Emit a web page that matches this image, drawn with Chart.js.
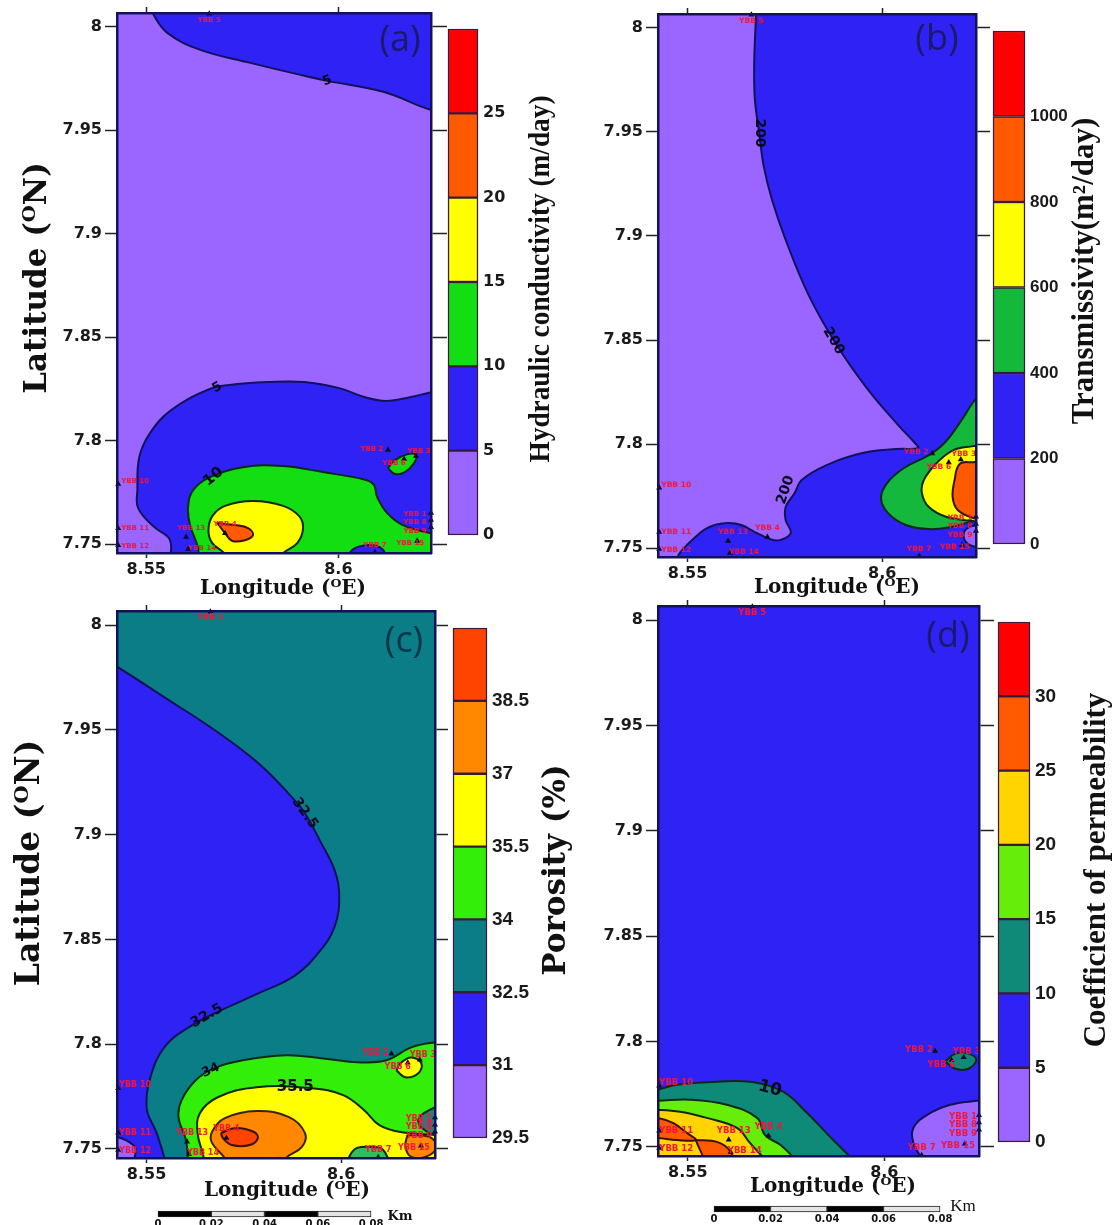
<!DOCTYPE html>
<html><head><meta charset="utf-8">
<script src="https://cdn.jsdelivr.net/npm/chart.js@4"></script>
<style>
html,body{margin:0;padding:0;background:#fff;width:1116px;height:1225px;overflow:hidden}
#wrap{position:relative;width:1116px;height:1225px;filter:blur(0.45px)}
canvas{position:absolute;left:0;top:0}
</style></head><body><div id="wrap"></div>
<script>
// ---------- axis values ----------
const lonTicks=[8.55,8.6];
const latTicks=[7.75,7.8,7.85,7.9,7.95,8];
const lonMin=8.5424, lonMax=8.6241, latMin=7.7457, latMax=8.0067;
const outside=[[8.53,7.73],[8.635,7.73],[8.635,8.02],[8.53,8.02],[8.53,7.73]];

// ---------- wells (lon, lat) ----------
const wellNames=['YBB 5','YBB 10','YBB 11','YBB 12','YBB 13','YBB 14','YBB 4','YBB 7','YBB 2','YBB 3','YBB 6','YBB 1','YBB 8','YBB 9','YBB 15'];
const wellLon=[8.5664,8.5427,8.5427,8.5427,8.5604,8.5609,8.5705,8.6095,8.6129,8.6202,8.6171,8.6241,8.6241,8.6241,8.6205];
const wellLat=[8.0063,7.7790,7.7577,7.7495,7.7534,7.7476,7.7553,7.7461,7.7955,7.7926,7.7911,7.7650,7.7616,7.7582,7.7515];
const wellDx=[0,17,17,17,5,14,0,0,-16,3,-10,-16,-16,-16,-7];
const wellDy=[6,-3,0,1,-9,-1,-9,-7,-1,-5,4,1,2,4,2];

// ---------- panel (a) hydraulic conductivity contours ----------
const a5Top=[[8.5505,8.012],[8.5516,8.0068],[8.5555,7.9971],[8.5641,7.9889],[8.5771,7.9826],[8.5901,7.9768],[8.5971,7.9739],[8.6117,7.9686],[8.624,7.9599],[8.632,7.957],[8.632,8.02],[8.5505,8.02]];
const a5Main=[[8.5557,7.7398],[8.5565,7.7485],[8.5557,7.7534],[8.5521,7.7582],[8.5479,7.7674],[8.5477,7.7761],[8.5482,7.7921],[8.551,7.8037],[8.5565,7.8148],[8.5659,7.8245],[8.5716,7.8269],[8.5817,7.8283],[8.5911,7.8283],[8.6002,7.8254],[8.6067,7.8211],[8.6124,7.8192],[8.6189,7.8211],[8.6244,7.8235],[8.6277,7.8245],[8.6277,7.7398],[8.5557,7.7398]];
const a10Main=[[8.5635,7.7398],[8.5635,7.7481],[8.5614,7.7592],[8.5609,7.7679],[8.5622,7.7761],[8.5666,7.7824],[8.5752,7.7872],[8.5856,7.7877],[8.596,7.7848],[8.6072,7.781],[8.6093,7.7785],[8.6101,7.7727],[8.6127,7.765],[8.6168,7.7592],[8.6238,7.7553],[8.6277,7.7539],[8.6277,7.7398],[8.5635,7.7398]];
const a5Blob=[[8.6017,7.7398],[8.6036,7.7471],[8.6075,7.7495],[8.6114,7.7476],[8.6134,7.7398]];
const a10Blob=[[8.6129,7.7868],[8.6147,7.7839],[8.6173,7.7848],[8.6197,7.7892],[8.6202,7.793],[8.6181,7.7935],[8.6147,7.7906],[8.6129,7.7868]];
const a15=[[8.5725,7.7398],[8.5703,7.7456],[8.5672,7.7505],[8.5662,7.7565],[8.5672,7.7635],[8.5705,7.7685],[8.5778,7.7708],[8.5856,7.7685],[8.5898,7.7635],[8.5908,7.7575],[8.5893,7.7505],[8.5856,7.7456],[8.5835,7.7398]];
const a20=[[8.5685,7.7602],[8.5731,7.7592],[8.5765,7.7577],[8.5778,7.7544],[8.5757,7.7519],[8.5724,7.7515],[8.5705,7.7553],[8.5685,7.7602]];

// ---------- panel (b) transmissivity contours ----------
const b200=[[8.5676,8.0135],[8.5676,8.0067],[8.5673,7.9942],[8.5671,7.9798],[8.5673,7.9654],[8.5684,7.9495],[8.5696,7.9332],[8.5717,7.9173],[8.5752,7.8981],[8.5811,7.8716],[8.5883,7.8476],[8.5964,7.826],[8.6041,7.8091],[8.6084,7.8005],[8.6092,7.7981],[8.6038,7.7976],[8.5949,7.7957],[8.5857,7.7899],[8.5793,7.7827],[8.5775,7.7764],[8.5752,7.7697],[8.5752,7.7635],[8.5765,7.7572],[8.5737,7.7538],[8.5712,7.7543],[8.5673,7.7577],[8.5638,7.7611],[8.5602,7.762],[8.5556,7.7601],[8.552,7.7553],[8.5482,7.7481],[8.5459,7.7418],[8.5378,7.7418],[8.5378,8.0135]];
const b400=[[8.627,7.8284],[8.6234,7.8202],[8.6204,7.8115],[8.616,7.8005],[8.612,7.7947],[8.6056,7.7885],[8.6013,7.7813],[8.5997,7.774],[8.6015,7.7668],[8.6061,7.7611],[8.612,7.7591],[8.6176,7.7601],[8.6234,7.763],[8.627,7.7644]];
const b600=[[8.627,7.8],[8.6234,7.799],[8.6183,7.7971],[8.614,7.7909],[8.6107,7.7827],[8.6102,7.7764],[8.612,7.7697],[8.6166,7.7649],[8.6234,7.763],[8.627,7.7625]];
const b800=[[8.627,7.7918],[8.6234,7.7913],[8.6199,7.7904],[8.6186,7.7827],[8.6181,7.7745],[8.6194,7.7683],[8.6234,7.7644],[8.627,7.7635]];
const b0Patch=[[8.627,7.7615],[8.6224,7.7601],[8.6209,7.7563],[8.6224,7.7515],[8.627,7.75]];

// ---------- panel (c) porosity contours ----------
const c325=[[8.5379,7.9848],[8.5425,7.98],[8.5552,7.9648],[8.568,7.9492],[8.5791,7.9335],[8.5876,7.9173],[8.5907,7.9102],[8.5946,7.8969],[8.5984,7.8826],[8.5995,7.8707],[8.5984,7.8565],[8.5946,7.8446],[8.5881,7.8327],[8.5791,7.8246],[8.5673,7.8146],[8.5608,7.808],[8.5554,7.8004],[8.5518,7.789],[8.55,7.77],[8.5526,7.7576],[8.5546,7.7457],[8.5554,7.74],[8.5379,7.74],[8.5379,7.9848]];
const c31=[[8.5379,7.7567],[8.5425,7.7557],[8.5466,7.7519],[8.5472,7.7486],[8.5456,7.7424],[8.5379,7.7424]];
const c34=[[8.5606,7.74],[8.5606,7.7457],[8.5601,7.7543],[8.5582,7.7652],[8.559,7.7733],[8.5626,7.7828],[8.5673,7.7885],[8.5747,7.7923],[8.5858,7.7947],[8.5948,7.7933],[8.6041,7.7914],[8.6116,7.7923],[8.618,7.7985],[8.6242,7.8009],[8.6281,7.8013],[8.6281,7.74],[8.5606,7.74]];
const c355=[[8.5647,7.74],[8.5647,7.7457],[8.5631,7.7576],[8.5637,7.7671],[8.5683,7.7747],[8.5783,7.7795],[8.5923,7.779],[8.6005,7.7757],[8.6059,7.7685],[8.6098,7.7614],[8.6152,7.7581],[8.6242,7.7567],[8.6281,7.7562],[8.6281,7.74],[8.5647,7.74]];
const cTealPatch=[[8.6281,7.7714],[8.6242,7.77],[8.6198,7.7638],[8.6227,7.7576],[8.6281,7.7567]];
const c34Blob=[[8.601,7.74],[8.6023,7.7471],[8.6041,7.7505],[8.6077,7.751],[8.6108,7.7495],[8.6131,7.74]];
const c355Blob=[[8.6142,7.7875],[8.6165,7.7842],[8.6198,7.7861],[8.6206,7.7909],[8.618,7.7937],[8.6152,7.7909],[8.6142,7.7875]];
const c37=[[8.5719,7.74],[8.5701,7.7457],[8.5668,7.7529],[8.5668,7.7581],[8.5701,7.7647],[8.5783,7.7681],[8.5866,7.7652],[8.5907,7.7576],[8.5899,7.751],[8.5858,7.7457],[8.5838,7.74]];
const c385=[[8.5691,7.7576],[8.5729,7.76],[8.5776,7.7581],[8.5786,7.7552],[8.5765,7.7519],[8.5719,7.7519],[8.5696,7.7552],[8.5691,7.7576]];
const c37Corner=[[8.617,7.7567],[8.6227,7.7557],[8.6245,7.751],[8.6216,7.7462],[8.618,7.7462],[8.6165,7.751],[8.617,7.7567]];

// ---------- panel (d) permeability contours ----------
const d10=[[8.5378,7.7757],[8.5421,7.7771],[8.5472,7.7795],[8.5574,7.7809],[8.5658,7.7809],[8.5742,7.7762],[8.5803,7.7662],[8.5862,7.7548],[8.5913,7.7452],[8.5939,7.739],[8.5378,7.739]];
const d15=[[8.5378,7.7719],[8.5421,7.7719],[8.5505,7.7724],[8.5599,7.77],[8.5676,7.7638],[8.5696,7.7557],[8.5735,7.751],[8.5768,7.7452],[8.5798,7.739],[8.5378,7.739]];
const d20=[[8.5378,7.7676],[8.5421,7.7676],[8.548,7.7667],[8.5548,7.7638],[8.5625,7.759],[8.5658,7.7519],[8.5691,7.7452],[8.5722,7.739],[8.5378,7.739]];
const d25West=[[8.5378,7.7643],[8.5421,7.7638],[8.5462,7.7614],[8.5497,7.7567],[8.552,7.7533],[8.5472,7.7533],[8.5421,7.7543],[8.5378,7.7543]];
const d25South=[[8.552,7.7533],[8.5574,7.7524],[8.5607,7.7481],[8.5622,7.739],[8.5561,7.739],[8.5531,7.7486],[8.552,7.7533]];
const d5=[[8.627,7.7724],[8.6234,7.7719],[8.6168,7.77],[8.6109,7.7652],[8.6074,7.759],[8.6074,7.7519],[8.6092,7.7452],[8.6104,7.739],[8.627,7.739]];
const d10Blob=[[8.6155,7.7905],[8.6181,7.7943],[8.6214,7.7943],[8.6234,7.7914],[8.6214,7.7871],[8.6181,7.7871],[8.6155,7.7905]];

// ---------- colour bar values ----------
const aEdges=[0,5,10,15,20,25,30];
const bEdges=[0,200,400,600,800,1000,1200];
const cEdges=[29.5,31,32.5,34,35.5,37,38.5,40];
const dEdges=[0,5,10,15,20,25,30,35];
const scaleStops=[0,0.02,0.04,0.06,0.08];

const PURPLE='#9a66ff',BLUE='#2f22f5',TEAL='#0a7d86',SEA='#0f8a78',GREEN='#12de12',LIME='#33ee08',LIME2='#66ee0a',
 YELLOW='#ffff00',GOLD='#ffd400',ORANGE='#ff8800',DEEP='#ff5a00',SCARLET='#ff4400',RED='#ff0000';
const NAVY='#12125c',DARK='#0d2a16';

const W=1116,H=1225,wrap=document.getElementById('wrap');
Chart.defaults.devicePixelRatio=1;
function cv(){const c=document.createElement('canvas');c.width=W;c.height=H;c.style.width=W+'px';c.style.height=H+'px';wrap.appendChild(c);return c;}
function toXY(p){return p.map(q=>({x:q[0],y:q[1]}));}
function texts(ctx,items){
  items.forEach(o=>{ctx.save();ctx.translate(o.x,o.y);ctx.rotate((o.rot||0)*Math.PI/180);ctx.font=o.font;ctx.fillStyle=o.color||'#111';
    ctx.textAlign='center';ctx.textBaseline='middle';o.w?ctx.fillText(o.t,0,0,o.w):ctx.fillText(o.t,0,0);ctx.restore();});
}
const SERIF='"DejaVu Serif"',NARROW='"Liberation Serif"',SANS='"DejaVu Sans"';
const LAT='Latitude (\u1D3CN)',LON='Longitude (\u1D3CE)';

const panels=[
 {rect:{l:117,t:13,r:431,b:553},base:PURPLE,rightTick:16,wellSize:7,
  zones:[[a5Top,BLUE,NAVY],[a5Main,BLUE,NAVY],[a10Main,GREEN,DARK],[a5Blob,BLUE,NAVY],[a10Blob,GREEN,DARK],[a15,YELLOW,DARK],[a20,DEEP,'#3a1008']],
  contour:[{t:'5',lon:8.5971,lat:7.9739,rot:-20,size:13},{t:'5',lon:8.5685,lat:7.8256,rot:-30,size:13},{t:'10',lon:8.5675,lat:7.7825,rot:-40,size:15}],
  page:[{t:LAT,x:38,y:278,font:'bold 31px '+SERIF,rot:-90,w:295},{t:LON,x:283,y:589,font:'bold 20px '+SERIF,w:210},
        {t:'Hydraulic conductivity (m/day)',x:541,y:279,font:'bold 30px '+NARROW,rot:-90,w:367},{t:'(a)',x:400,y:41,font:'36px "Open Sans"',color:'#1a1a6a'}]},
 {rect:{l:658,t:14,r:976,b:557},base:BLUE,rightTick:14,wellSize:7.5,
  zones:[[b200,PURPLE,NAVY],[b400,'#14b83c',DARK],[b600,YELLOW,DARK],[b800,DEEP,'#3a1008'],[b0Patch,PURPLE,NAVY]],
  contour:[{t:'200',lon:8.5684,lat:7.9495,rot:90,size:14},{t:'200',lon:8.5875,lat:7.8495,rot:60,size:14},{t:'200',lon:8.5752,lat:7.7779,rot:-72,size:14}],
  page:[{t:LON,x:837,y:588,font:'bold 20px '+SERIF,w:222},{t:'Transmissivity(m\u00B2/day)',x:1085,y:271,font:'bold 31px '+NARROW,rot:-90,w:332},
        {t:'(b)',x:937,y:40,font:'36px "Open Sans"',color:'#1a1a6a'}]},
 {rect:{l:117,t:611,r:435,b:1158},base:TEAL,rightTick:13,wellSize:8,
  zones:[[c325,BLUE,NAVY],[c31,PURPLE,NAVY],[c34,LIME,DARK],[c355,YELLOW,DARK],[cTealPatch,'#2f7a78',DARK],[c34Blob,'#2fc05a',DARK],[c355Blob,YELLOW,DARK],[c37,ORANGE,'#3a2008'],[c385,SCARLET,'#3a1008'],[c37Corner,ORANGE,'#3a2008']],
  contour:[{t:'32.5',lon:8.5907,lat:7.9102,rot:55,size:14},{t:'32.5',lon:8.5655,lat:7.8135,rot:-30,size:14},{t:'34',lon:8.5665,lat:7.7875,rot:-25,size:13},{t:'35.5',lon:8.5882,lat:7.7795,rot:0,size:15}],
  page:[{t:LAT,x:30,y:863,font:'bold 33px '+SERIF,rot:-90,w:315},{t:LON,x:287,y:1191,font:'bold 20px '+SERIF,w:222},
        {t:'Porosity (%)',x:557,y:870,font:'bold 31px '+SERIF,rot:-90,w:240},{t:'(c)',x:404,y:642,font:'36px "Open Sans"',color:'#08354a'},
        {t:'Km',x:400,y:1217,font:'bold 13px '+SERIF}]},
 {rect:{l:658,t:606,r:979,b:1156},base:BLUE,rightTick:15,wellSize:8.5,
  zones:[[d10,SEA,DARK],[d15,LIME2,DARK],[d20,GOLD,DARK],[d25West,DEEP,'#3a1008'],[d25South,DEEP,'#3a1008'],[d5,PURPLE,NAVY],[d10Blob,SEA,DARK]],
  contour:[{t:'10',lon:8.5709,lat:7.7776,rot:15,size:17}],
  page:[{t:LON,x:833,y:1187,font:'bold 20px '+SERIF,w:225},{t:'Coefficient of permeability',x:1097,y:870,font:'bold 31px '+NARROW,rot:-90,w:360},
        {t:'(d)',x:948,y:637,font:'36px "Open Sans"',color:'#1a1a6a'},{t:'Km',x:963,y:1207,font:'17px '+NARROW}]}
];

// Axis boxes get a fixed size so the plot rectangle comes out exactly where the layout says.
const LEFT_BOX=60,BOTTOM_BOX=28,BAR_BOX=70;
function pad(r,lb,bb,rb){return {left:r.l-(lb||0),top:r.t,right:W-r.r-(rb||0),bottom:H-r.b-(bb||0)};}
const sizeW=n=>s=>{s.width=n;}, sizeH=n=>s=>{s.height=n;};
const tickFont={family:'DejaVu Sans',size:16,weight:'bold'};

panels.forEach(p=>{
  const ds=[{data:toXY(outside),fill:'shape',backgroundColor:p.base,borderWidth:0,tension:0}];
  p.zones.forEach(z=>ds.push({data:toXY(z[0]),fill:'shape',backgroundColor:z[1],borderColor:z[2],borderWidth:2,tension:0.4,capBezierPoints:false}));
  ds.push({showLine:false,data:wellLon.map((x,i)=>({x,y:wellLat[i]})),pointStyle:'triangle',pointRadius:3.5,pointBackgroundColor:'#0a0a22',pointBorderWidth:0,clip:false});
  const n=ds.length;
  ds.forEach((d,i)=>{d.order=n-i;d.pointRadius=d.pointRadius||0;});
  const mapText={id:'mapText',afterDatasetsDraw(chart){
    const c=chart.ctx,sx=chart.scales.x,sy=chart.scales.y;
    texts(c,wellNames.map((t,i)=>({t,x:sx.getPixelForValue(wellLon[i])+wellDx[i],y:sy.getPixelForValue(wellLat[i])+wellDy[i],font:'bold '+p.wellSize+'px '+SANS,color:'#f2163c'})));
    texts(c,p.contour.map(o=>({t:o.t,x:sx.getPixelForValue(o.lon),y:sy.getPixelForValue(o.lat),rot:o.rot,font:'bold '+o.size+'px '+SANS,color:'#0a0a1e'})));
    texts(c,p.page);
  }};
  const lonAxis=(pos,show,len,box)=>({type:'linear',position:pos,min:lonMin,max:lonMax,afterFit:sizeH(box),
    afterBuildTicks:s=>{s.ticks=lonTicks.map(value=>({value}));},
    grid:{drawOnChartArea:false,tickLength:len,tickColor:'#222',tickWidth:1.5},border:{color:NAVY,width:2.5,z:2},
    ticks:{display:show,autoSkip:false,maxRotation:0,padding:2,font:tickFont,color:'#1a1a1a',callback:v=>String(v)}});
  const latAxis=(pos,show,len,box)=>({type:'linear',position:pos,min:latMin,max:latMax,afterFit:sizeW(box),
    afterBuildTicks:s=>{s.ticks=latTicks.map(value=>({value}));},
    grid:{drawOnChartArea:false,tickLength:len,tickColor:'#222',tickWidth:1.5},border:{color:NAVY,width:2.5,z:2},
    ticks:{display:show,autoSkip:false,padding:3,font:tickFont,color:'#1a1a1a',callback:v=>String(v)}});
  new Chart(cv(),{type:'line',data:{datasets:ds},plugins:[mapText],options:{responsive:false,animation:false,
    layout:{padding:pad(p.rect,LEFT_BOX,BOTTOM_BOX)},plugins:{legend:{display:false},tooltip:{enabled:false}},
    scales:{x:lonAxis('bottom',true,5,BOTTOM_BOX),x2:lonAxis('top',false,6,0),y:latAxis('left',true,12,LEFT_BOX),y2:latAxis('right',false,p.rightTick,0)}}});
});

const bars=[
 {rect:{l:448,t:29,r:478,b:535},edges:aEdges,colors:[PURPLE,BLUE,GREEN,YELLOW,DEEP,RED],font:{family:'DejaVu Sans',size:16,weight:'bold'}},
 {rect:{l:993,t:31,r:1025,b:544},edges:bEdges,colors:[PURPLE,BLUE,'#14b83c',YELLOW,DEEP,RED],font:{family:'Liberation Sans',size:17,weight:'bold'}},
 {rect:{l:453,t:628,r:487,b:1138},edges:cEdges,colors:[PURPLE,BLUE,TEAL,LIME,YELLOW,ORANGE,SCARLET],font:{family:'Liberation Sans',size:19,weight:'bold'}},
 {rect:{l:998,t:622,r:1030,b:1142},edges:dEdges,colors:[PURPLE,BLUE,SEA,LIME2,GOLD,DEEP,RED],font:{family:'Liberation Sans',size:19,weight:'bold'}}
];
bars.forEach(b=>{
  const e=b.edges;
  const ds=b.colors.map((c,i)=>({data:[[e[i],e[i+1]]],backgroundColor:c,borderColor:'#3a1a3a',borderWidth:1.5,borderSkipped:false,barPercentage:1,categoryPercentage:1,clip:false,grouped:false}));
  new Chart(cv(),{type:'bar',data:{labels:[''],datasets:ds},options:{responsive:false,animation:false,
    layout:{padding:pad(b.rect,0,0,BAR_BOX)},plugins:{legend:{display:false},tooltip:{enabled:false}},
    scales:{x:{display:false},
      y:{type:'linear',position:'right',min:e[0],max:e[e.length-1],afterFit:sizeW(BAR_BOX),
         afterBuildTicks:s=>{s.ticks=e.slice(0,-1).map(value=>({value}));},
         grid:{display:false,drawTicks:false},border:{display:false},
         ticks:{autoSkip:false,padding:5,font:b.font,color:'#1a1a1a',callback:v=>String(v)}}}}});
});

[{r:{l:158,t:1211,r:371,b:1217}},{r:{l:714,t:1206,r:940,b:1212}}].forEach(o=>{
  const r=o.r,box=H-r.b;
  const ds=scaleStops.slice(0,-1).map((s,i)=>({data:[[s,scaleStops[i+1]]],backgroundColor:i%2?'#e4e4e4':'#000',borderColor:'#222',borderWidth:1,borderSkipped:false,barPercentage:1,categoryPercentage:1,clip:false,grouped:false}));
  new Chart(cv(),{type:'bar',data:{labels:[''],datasets:ds},options:{responsive:false,animation:false,indexAxis:'y',
    layout:{padding:pad(r,0,box)},plugins:{legend:{display:false},tooltip:{enabled:false}},
    scales:{y:{display:false},
      x:{type:'linear',position:'bottom',min:0,max:0.08,afterFit:sizeH(box),afterBuildTicks:s=>{s.ticks=scaleStops.map(value=>({value}));},
         grid:{display:false,drawTicks:false},border:{display:false},
         ticks:{autoSkip:false,maxRotation:0,padding:1,font:{family:'DejaVu Sans',size:10,weight:'bold'},color:'#111',callback:v=>String(v)}}}}});
});
</script></body></html>
